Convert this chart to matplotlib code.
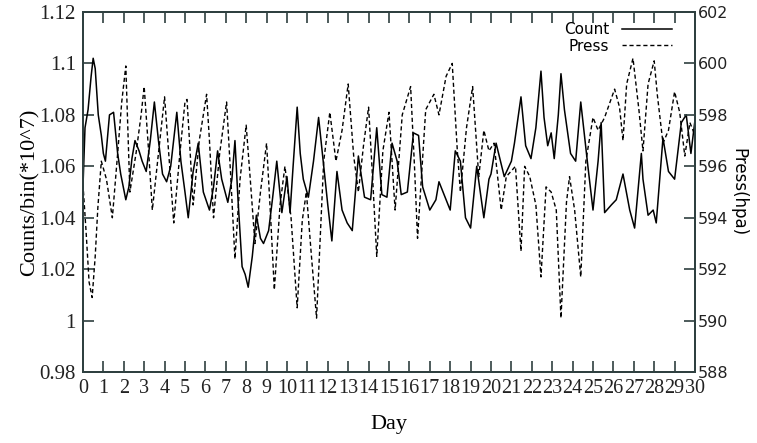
import matplotlib
matplotlib.use("Agg")
import matplotlib.pyplot as plt
from matplotlib.lines import Line2D

count_days = [0.0, 0.1, 0.25, 0.4, 0.5, 0.6, 0.75, 0.9, 1.0, 1.1, 1.3, 1.5, 1.7, 1.85, 2.1, 2.25, 2.4, 2.55,
              2.75, 2.9, 3.1, 3.3, 3.5, 3.7, 3.9, 4.1, 4.3, 4.6, 4.8, 5.0, 5.16, 5.4, 5.65, 5.9, 6.2, 6.4,
              6.6, 6.8, 7.1, 7.3, 7.45, 7.6, 7.8, 7.95, 8.1, 8.3, 8.5, 8.7, 8.85, 9.1, 9.3, 9.5, 9.75, 10.0,
              10.15, 10.3, 10.5, 10.65, 10.8, 11.05, 11.3, 11.55, 11.8, 12.0, 12.2, 12.45, 12.7, 12.95,
              13.2, 13.5, 13.8, 14.1, 14.4, 14.65, 14.9, 15.15, 15.4, 15.6, 15.9, 16.2, 16.45, 16.65, 17.0,
              17.3, 17.45, 17.8, 18.0, 18.25, 18.5, 18.75, 19.0, 19.3, 19.65, 19.9, 20.0, 20.25, 20.65,
              21.0, 21.15, 21.47, 21.7, 21.96, 22.2, 22.45, 22.6, 22.78, 22.95, 23.1, 23.3, 23.43, 23.6,
              23.9, 24.15, 24.4, 24.75, 25.0, 25.25, 25.4, 25.57, 25.9, 26.14, 26.47, 26.8, 27.04, 27.37,
              27.45, 27.7, 27.95, 28.1, 28.43, 28.7, 29.0, 29.33, 29.57, 29.8, 30.0]
count_vals = [1.052, 1.075, 1.082, 1.095, 1.102, 1.098, 1.080, 1.072, 1.065, 1.062, 1.080, 1.081, 1.065,
              1.057, 1.047, 1.052, 1.063, 1.070, 1.066, 1.062, 1.058, 1.070, 1.085, 1.070, 1.057, 1.054,
              1.060, 1.081, 1.062, 1.050, 1.040, 1.058, 1.069, 1.050, 1.043, 1.052, 1.066, 1.055, 1.046,
              1.055, 1.070, 1.047, 1.021, 1.018, 1.013, 1.025, 1.041, 1.032, 1.030, 1.035, 1.048, 1.062,
              1.042, 1.056, 1.042, 1.060, 1.083, 1.065, 1.055, 1.048, 1.062, 1.079, 1.060, 1.045, 1.031,
              1.058, 1.043, 1.038, 1.035, 1.064, 1.048, 1.047, 1.075, 1.049, 1.048, 1.069, 1.062, 1.049,
              1.050, 1.073, 1.072, 1.052, 1.043, 1.047, 1.054, 1.047, 1.043, 1.066, 1.062, 1.040, 1.036,
              1.060, 1.040, 1.055, 1.057, 1.069, 1.056, 1.062, 1.069, 1.087, 1.068, 1.063, 1.075, 1.097,
              1.079, 1.068, 1.073, 1.063, 1.080, 1.096, 1.082, 1.065, 1.062, 1.085, 1.060, 1.043, 1.062,
              1.077, 1.042, 1.045, 1.047, 1.057, 1.043, 1.036, 1.065, 1.055, 1.041, 1.043, 1.038, 1.071,
              1.058, 1.055, 1.077, 1.080, 1.065, 1.078]

press_days = [0.0, 0.15, 0.3, 0.45, 0.6, 0.73, 0.9, 1.15, 1.44, 1.7, 1.9, 2.1, 2.3, 2.6, 2.85, 3.0, 3.2, 3.4,
              3.7, 4.0, 4.25, 4.45, 4.75, 5.0, 5.1, 5.25, 5.4, 5.7, 6.06, 6.2, 6.4, 6.7, 7.04, 7.25, 7.45,
              7.7, 8.0, 8.2, 8.43, 8.7, 9.0, 9.2, 9.38, 9.66, 9.9, 10.2, 10.5, 10.75, 10.95, 11.2, 11.45,
              11.8, 12.1, 12.4, 12.7, 13.0, 13.27, 13.5, 13.75, 14.0, 14.2, 14.4, 14.7, 15.0, 15.3, 15.65,
              16.06, 16.25, 16.4, 16.8, 17.2, 17.45, 17.8, 18.1, 18.35, 18.5, 18.8, 19.1, 19.4, 19.65, 19.9,
              20.15, 20.5, 20.75, 21.2, 21.47, 21.65, 21.9, 22.2, 22.45, 22.7, 22.95, 23.2, 23.43, 23.7,
              23.85, 24.1, 24.4, 24.65, 25.0, 25.25, 25.57, 26.06, 26.3, 26.47, 26.65, 26.96, 27.25, 27.45,
              27.7, 28.0, 28.15, 28.43, 28.7, 29.0, 29.25, 29.5, 29.75, 30.0]
press_vals = [595.3, 593.5, 591.5, 590.9, 592.5, 594.4, 596.2, 595.5, 594.0, 596.5, 598.5, 599.9, 595.0,
              596.5, 598.0, 599.1, 596.8, 594.3, 596.5, 598.7, 596.0, 593.8, 596.5, 598.5, 598.6, 596.6,
              594.5, 597.0, 598.8, 597.0, 594.0, 596.5, 598.5, 595.5, 592.4, 595.5, 597.6, 595.5, 593.0,
              595.0, 596.9, 594.0, 591.2, 594.5, 596.0, 594.0, 590.5, 593.9, 595.0, 592.5, 590.1, 596.2,
              598.1, 596.2, 597.4, 599.2, 596.4, 595.0, 596.8, 598.3, 595.5, 592.5, 596.6, 598.1, 594.3,
              598.0, 599.1, 596.0, 593.2, 598.2, 598.8, 598.0, 599.5, 600.0, 596.6, 595.0, 597.5, 599.1,
              595.6, 597.4, 596.6, 596.9, 594.3, 595.6, 596.0, 592.7, 596.0, 595.6, 594.5, 591.7, 595.2,
              595.0, 594.3, 590.1, 594.6, 595.6, 594.3, 591.7, 596.2, 597.9, 597.4, 597.9, 599.0, 598.3,
              597.0, 599.2, 600.2, 598.2, 596.6, 599.2, 600.1, 598.8, 596.9, 597.4, 598.9, 598.1, 596.4,
              597.7, 597.2]

x_ticks = list(range(0, 31))
left_ticks = [0.98, 1.0, 1.02, 1.04, 1.06, 1.08, 1.1, 1.12]
left_labels = ["0.98", "1", "1.02", "1.04", "1.06", "1.08", "1.1", "1.12"]
right_ticks = [588, 590, 592, 594, 596, 598, 600, 602]

SERIF = ["Liberation Serif", "DejaVu Serif"]
SANS = ["DejaVu Sans"]
AX_COL = "#2f4040"

fig = plt.figure(figsize=(7.57, 4.43), dpi=100)
ax = fig.add_axes([0.1096, 0.160, 0.8085, 0.813])
ax2 = ax.twinx()

ax.plot(count_days, count_vals, color="black", lw=1.1)
ax2.plot(press_days, press_vals, color="black", lw=1.0, linestyle=(0, (3, 2)))

ax.set_xlim(0, 30)
ax.set_ylim(0.98, 1.12)
ax2.set_ylim(588, 602)

ax.set_xticks(x_ticks)
ax.set_xticklabels([str(t) for t in x_ticks], fontfamily=SERIF, fontsize=14.5)
ax.set_yticks(left_ticks)
ax.set_yticklabels(left_labels, fontfamily=SERIF, fontsize=15)
ax2.set_yticks(right_ticks)
ax2.set_yticklabels([str(t) for t in right_ticks], fontfamily=SANS, fontsize=11.5)

ax.tick_params(axis="x", direction="in", length=8, width=1.2, top=True, pad=5, colors=AX_COL,
               labelcolor="#222222")
ax.tick_params(axis="y", direction="in", length=8, width=1.2, right=False, pad=5, colors=AX_COL,
               labelcolor="#222222")
ax2.tick_params(axis="y", direction="in", length=8, width=1.2, pad=2, colors=AX_COL,
                labelcolor="#222222")
for a in (ax, ax2):
    for s in a.spines.values():
        s.set_color(AX_COL)
        s.set_linewidth(1.4)

ax.set_xlabel("Day", fontfamily=SERIF, fontsize=16, labelpad=12)
ax.set_ylabel("Counts/bin(*10^7)", fontfamily=SERIF, fontsize=16, labelpad=0)
ax2.set_ylabel("Press(hpa)", fontfamily=SANS, fontsize=12, rotation=270, labelpad=14)

handles = [Line2D([], [], color="black", lw=1.1),
           Line2D([], [], color="black", lw=1.0, linestyle=(0, (3, 2)))]
ax2.legend(handles, ["Count", "Press"], loc="upper right", bbox_to_anchor=(0.985, 1.01),
           frameon=False, markerfirst=False, handlelength=3.3, handletextpad=0.8,
           labelspacing=0.1, prop={"family": SANS, "size": 11})

fig.savefig("out.png", dpi=100)
